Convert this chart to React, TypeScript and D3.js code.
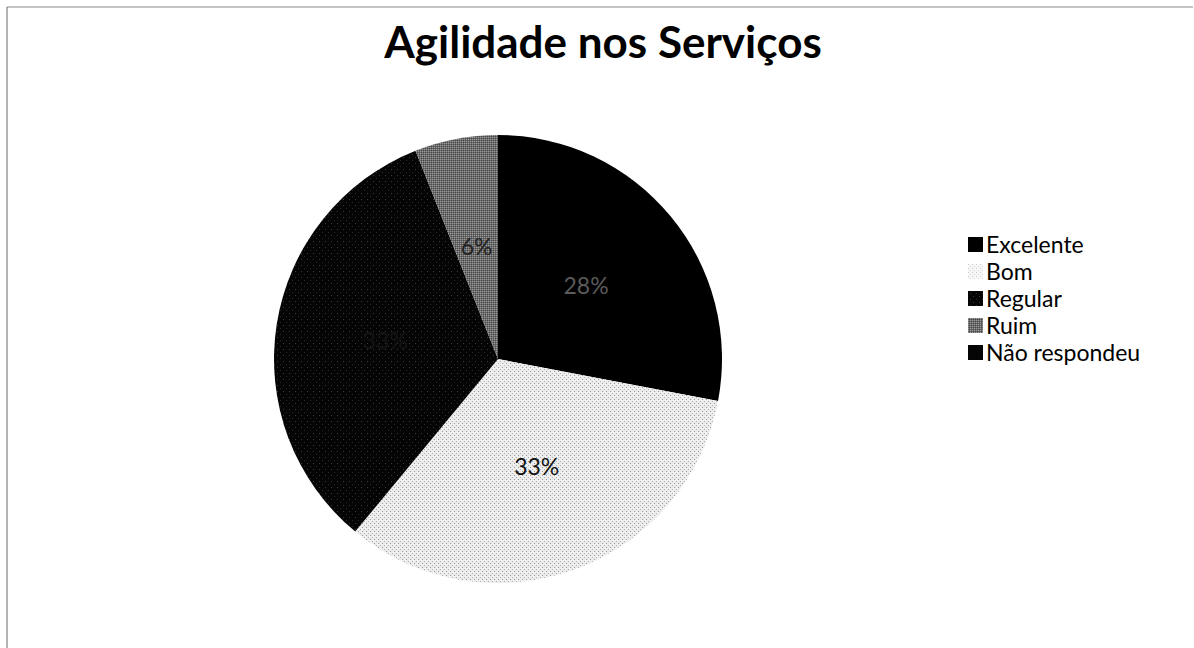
import React from "react";
import * as d3 from "d3";

const categories = ["Excelente", "Bom", "Regular", "Ruim", "Não respondeu"];
const values = [28, 33, 33, 6, 0];
const labels = ["28%", "33%", "33%", "6%", "0%"];
const title = "Agilidade nos Serviços";

const fills = ["#000000", "url(#bomPat)", "url(#regPat)", "url(#ruimPat)", "#050505"];
const labelColors = ["#5a5a5a", "#111111", "#141414", "#222222", "#000"];

export default function App() {
  const W = 1194, H = 648;
  const cx = 498, cy = 359, r = 224;
  const pie = d3.pie<number>().sort(null).value((d) => d)(values);
  const arc = d3.arc<d3.PieArcDatum<number>>().innerRadius(0).outerRadius(r);
  const labelArc = d3.arc<d3.PieArcDatum<number>>().innerRadius(r * 0.51).outerRadius(r * 0.51);
  const font = "Lato, 'Open Sans', sans-serif";
  const legendY = d3.scalePoint<string>().domain(categories).range([245, 353]);

  return (
    <svg width={W} height={H} style={{ position: "absolute", left: 0, top: 0, background: "#fff" }}>
      <defs>
        <pattern id="bomPat" width="4" height="4" patternUnits="userSpaceOnUse">
          <rect width="4" height="4" fill="#ececec" />
          <rect x="0" y="0" width="1" height="1" fill="#9a9a9a" />
          <rect x="2" y="2" width="1" height="1" fill="#b0b0b0" />
          <rect x="3" y="1" width="1" height="1" fill="#fff" />
        </pattern>
        <pattern id="regPat" width="6" height="6" patternUnits="userSpaceOnUse">
          <rect width="6" height="6" fill="#050505" />
          <rect x="1" y="2" width="1" height="1" fill="#3a3a3a" />
          <rect x="4" y="5" width="1" height="1" fill="#2a2a2a" />
        </pattern>
        <pattern id="ruimPat" width="2" height="2" patternUnits="userSpaceOnUse">
          <rect width="2" height="2" fill="#6a6a6a" />
          <rect x="0" y="0" width="1" height="1" fill="#9a9a9a" />
          <rect x="1" y="1" width="1" height="1" fill="#4a4a4a" />
        </pattern>
      </defs>
      <line x1={7} y1={7} x2={1193} y2={7} stroke="#8a8a8a" strokeWidth={1} />
      <line x1={7} y1={7} x2={7} y2={648} stroke="#6a6a6a" strokeWidth={1} />
      <text x={603} y={58} textAnchor="middle" fontFamily={font} fontWeight={700} fontSize={44} fill="#000">
        {title}
      </text>
      <g transform={`translate(${cx},${cy})`}>
        {pie.map((p, i) =>
          p.value > 0 ? <path key={i} d={arc(p) || ""} fill={fills[i]} /> : null
        )}
        {pie.map((p, i) => {
          if (p.value <= 0) return null;
          const [x, y] = labelArc.centroid(p);
          return (
            <text key={"l" + i} x={x} y={y} dy="0.35em" textAnchor="middle" fontFamily={font} fontSize={23} fill={labelColors[i]}>
              {labels[i]}
            </text>
          );
        })}
      </g>
      <g>
        {categories.map((c, i) => {
          const y = legendY(c)!;
          return (
            <g key={c}>
              <rect x={968} y={y - 8} width={15} height={15} fill={fills[i]} opacity={i === 1 ? 0.5 : 1} />
              <text x={986} y={y} dy="0.35em" fontFamily={font} fontSize={23} fill="#000">
                {c}
              </text>
            </g>
          );
        })}
      </g>
    </svg>
  );
}
